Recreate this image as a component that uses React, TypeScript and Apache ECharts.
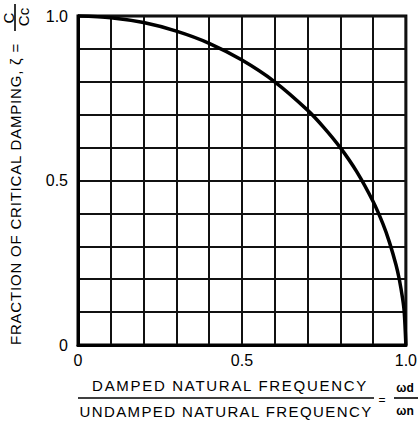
import React, { useEffect, useRef } from "react";
import * as echarts from "echarts";

// Damped / undamped natural frequency ratio (x) against fraction of critical damping (y)
const frequencyRatio = [0, 0.1, 0.2, 0.3, 0.4, 0.5, 0.6, 0.7, 0.75, 0.8, 0.85, 0.9, 0.93, 0.95, 0.97, 0.98, 0.99, 0.995, 1.0];
const dampingRatio = [1.0, 0.995, 0.98, 0.954, 0.917, 0.866, 0.8, 0.714, 0.661, 0.6, 0.527, 0.436, 0.368, 0.312, 0.243, 0.199, 0.141, 0.1, 0];

// Only these grid positions carry a label
const tickValues = [0, 0.5, 1.0];
const tickLabels = ["0", "0.5", "1.0"];

const yTitle = "FRACTION OF CRITICAL DAMPING, ζ =";
const xTitleTop = "DAMPED NATURAL FREQUENCY";
const xTitleBottom = "UNDAMPED NATURAL FREQUENCY";

const FONT = '"Liberation Sans", Arial, sans-serif';
const INK = "#000";

const tickFormatter = (v: number) => {
  const i = tickValues.findIndex((t) => Math.abs(t - v) < 1e-6);
  return i >= 0 ? tickLabels[i] : "";
};

// Stencil-style lettering is spaced out more than the font's default
const letterSpacing: Record<string, number> = {
  [yTitle]: 0.8,
  [xTitleTop]: 1.7,
  [xTitleBottom]: 1.4,
};

export default function App() {
  const ref = useRef<HTMLDivElement>(null);

  useEffect(() => {
    if (!ref.current) return;
    const chart = echarts.init(ref.current, undefined, { renderer: "svg" });

    const text = (t: string, x: number, y: number, size: number, rotation = 0, extra: any = {}) => ({
      type: "text",
      x,
      y,
      rotation,
      silent: true,
      style: {
        text: t,
        font: `${size}px ${FONT}`,
        fill: INK,
        align: "center",
        verticalAlign: "middle",
        ...extra,
      },
    });

    const rule = (x1: number, y1: number, x2: number, y2: number, w = 1.6) => ({
      type: "line",
      silent: true,
      shape: { x1, y1, x2, y2 },
      style: { stroke: INK, lineWidth: w },
    });

    const axisCommon = {
      type: "value" as const,
      min: 0,
      max: 1,
      interval: 0.1,
      axisLine: { show: true, lineStyle: { color: INK, width: 3 } },
      axisTick: { show: false },
      splitLine: { show: true, lineStyle: { color: "#111", width: 2 } },
      axisLabel: {
        formatter: tickFormatter,
        color: INK,
        fontFamily: FONT,
        fontSize: 16,
        showMinLabel: true,
        showMaxLabel: true,
      },
    };

    chart.setOption({
      animation: false,
      backgroundColor: "#fff",
      grid: {
        left: 78,
        top: 16,
        right: 13,
        bottom: 77,
        show: true,
        borderColor: INK,
        borderWidth: 3,
      },
      xAxis: { ...axisCommon, axisLabel: { ...axisCommon.axisLabel, margin: 7 } },
      yAxis: { ...axisCommon, axisLabel: { ...axisCommon.axisLabel, margin: 10 } },
      series: [
        {
          type: "line",
          data: frequencyRatio.map((x, i) => [x, dampingRatio[i]]),
          showSymbol: false,
          smooth: 0.3,
          clip: false,
          lineStyle: { color: INK, width: 3.5 },
        },
      ],
      graphic: [
        // y-axis title, reading upward, ending in the ratio C / Cc
        text(yTitle, 15, 194, 15, Math.PI / 2),
        text("C", 8, 18, 15, Math.PI / 2),
        rule(15, 4, 15, 31),
        text("Cc", 23, 17, 15, Math.PI / 2),
        // x-axis title as a ratio of frequencies
        text(xTitleTop, 230, 385, 15),
        rule(78, 398, 374, 398),
        text(xTitleBottom, 226, 411, 15),
        text("=", 382, 400, 12),
        text("ωd", 405, 388, 12, 0, { fontWeight: "bold" }),
        rule(394, 398, 418, 398),
        text("ωn", 405, 411, 12, 0, { fontWeight: "bold" }),
      ],
    });

    const applySpacing = () => {
      ref.current?.querySelectorAll("text").forEach((node) => {
        const s = letterSpacing[node.textContent || ""];
        if (s) node.setAttribute("letter-spacing", String(s));
      });
    };
    applySpacing();
    chart.on("finished", applySpacing);

    return () => {
      chart.dispose();
    };
  }, []);

  return (
    <div
      ref={ref}
      style={{ position: "fixed", left: 0, top: 0, width: 420, height: 422, background: "#fff" }}
    />
  );
}
